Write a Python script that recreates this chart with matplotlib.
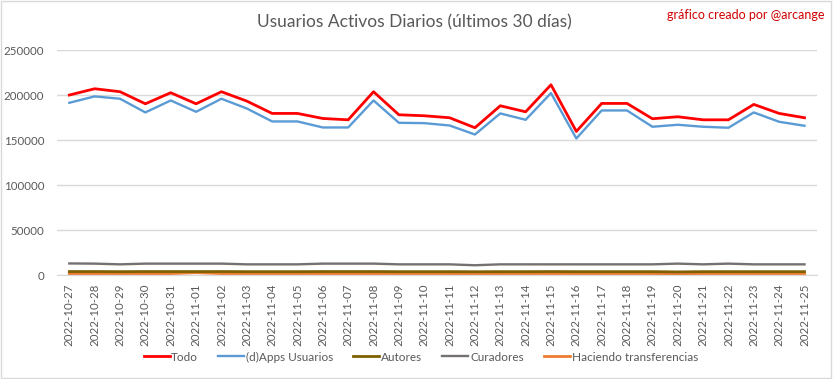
import matplotlib
matplotlib.use("Agg")
import matplotlib.pyplot as plt
from matplotlib.patches import Rectangle

plt.rcParams['font.family'] = ['Lato', 'DejaVu Sans']

dates = ["2022-10-27", "2022-10-28", "2022-10-29", "2022-10-30", "2022-10-31",
         "2022-11-01", "2022-11-02", "2022-11-03", "2022-11-04", "2022-11-05",
         "2022-11-06", "2022-11-07", "2022-11-08", "2022-11-09", "2022-11-10",
         "2022-11-11", "2022-11-12", "2022-11-13", "2022-11-14", "2022-11-15",
         "2022-11-16", "2022-11-17", "2022-11-18", "2022-11-19", "2022-11-20",
         "2022-11-21", "2022-11-22", "2022-11-23", "2022-11-24", "2022-11-25"]

todo = [200000, 207000, 203700, 190300, 202600, 190300, 203700, 193300, 179600, 179600,
        174000, 172500, 203700, 178100, 177000, 174800, 163700, 188100, 181400, 211400,
        159600, 190700, 190700, 173700, 175900, 172500, 172500, 189600, 179600, 174800]
dapps = [191400, 198500, 195900, 180700, 194000, 181400, 195900, 185100, 170700, 170700,
         164000, 164000, 194000, 169200, 168800, 166200, 156200, 179600, 172500, 202200,
         151800, 182900, 182900, 164800, 167000, 164800, 163700, 180700, 170300, 165900]
autores = [4000, 4000, 3900, 4000, 4000, 4000, 4000, 3900, 3900, 3900,
           4000, 4000, 4000, 3900, 3900, 3900, 3800, 3900, 3900, 4000,
           3900, 3900, 3900, 3900, 3600, 3900, 3900, 3900, 3900, 3900]
curadores = [13000, 12800, 12000, 12800, 12800, 12800, 12800, 12000, 12000, 12000,
             12800, 12800, 12800, 12000, 12000, 12000, 11000, 12000, 12000, 12000,
             12000, 12000, 12000, 12000, 12800, 12000, 12800, 12000, 12000, 12000]
transfer = [1800, 1800, 1800, 1800, 1800, 2800, 1800, 1800, 1800, 1800,
            1800, 1800, 1800, 1800, 1800, 1800, 1800, 1800, 1800, 1800,
            1800, 1800, 1800, 1800, 1700, 1800, 1800, 1800, 1800, 1800]

series = [("Todo", todo, "#FF0000", 2.0),
          ("(d)Apps Usuarios", dapps, "#5B9BD5", 1.7),
          ("Autores", autores, "#7F6000", 2.0),
          ("Curadores", curadores, "#767171", 1.7),
          ("Haciendo transferencias", transfer, "#ED7D31", 2.0)]

fig = plt.figure(figsize=(8.33, 3.79), dpi=100)
ax = fig.add_axes([0.068, 0.274, 0.913, 0.594])

x = range(len(dates))
# small series first so the big ones sit on top
for name, vals, color, lw in reversed(series):
    ax.plot(x, vals, color=color, lw=lw, label=name)

ax.set_xlim(-0.5, len(dates) - 0.5)
ax.set_ylim(0, 250000)
ax.set_yticks(range(0, 250001, 50000))
ax.set_xticks(list(x))
ax.set_xticklabels(dates, rotation=90)
ax.tick_params(axis="both", length=0, labelsize=8.3, colors="#595959")
ax.tick_params(axis="x", pad=6)
ax.tick_params(axis="y", pad=9)
ax.grid(axis="y", color="#D9D9D9", lw=1)
ax.set_axisbelow(True)
for s in ["top", "right", "left"]:
    ax.spines[s].set_visible(False)
ax.spines["bottom"].set_color("#D9D9D9")

fig.text(0.498, 0.94, "Usuarios Activos Diarios (últimos 30 días)", ha="center",
         va="center", fontsize=12.5, color="#595959")
fig.text(0.99, 0.96, "gráfico creado por @arcange", ha="right", va="center",
         fontsize=9, color="#D00000")

handles, labels = ax.get_legend_handles_labels()
fig.legend(handles[::-1], labels[::-1], loc="center", bbox_to_anchor=(0.505, 0.058),
           ncol=5, frameon=False, fontsize=8.5, handlelength=2.2, handletextpad=0.15,
           columnspacing=1.7, labelcolor="#595959")

fig.patches.append(Rectangle((0.001, 0.002), 0.997, 0.995, transform=fig.transFigure,
                             fill=False, edgecolor="#D9D9D9", lw=1))

fig.savefig("out.png", dpi=100)
